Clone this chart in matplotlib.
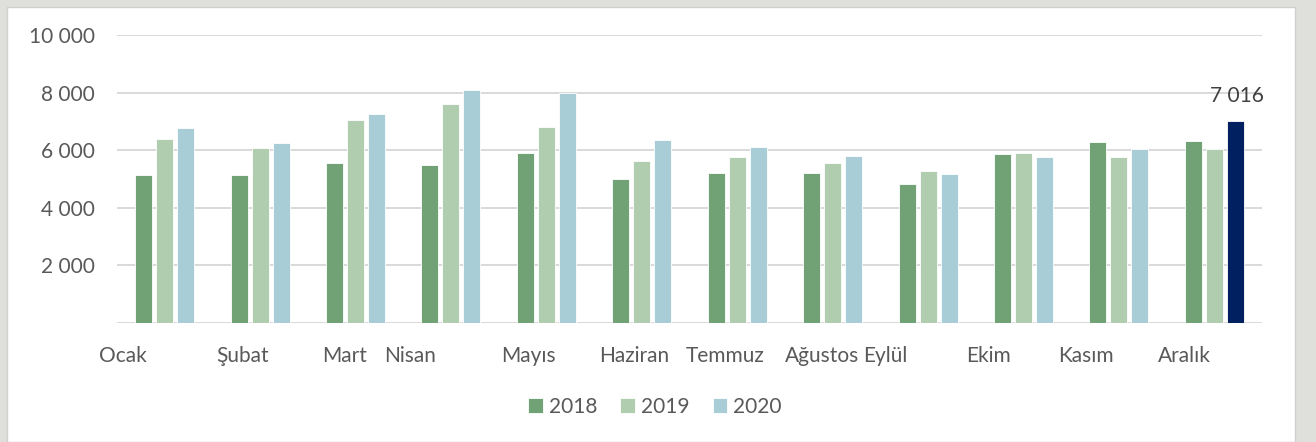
import matplotlib.pyplot as plt
import numpy as np
from matplotlib.patches import Rectangle
from matplotlib.ticker import FuncFormatter

# aylık değerler (2018-2020)
months = ['Ocak', 'Şubat', 'Mart', 'Nisan', 'Mayıs', 'Haziran',
          'Temmuz', 'Ağustos', 'Eylül', 'Ekim', 'Kasım', 'Aralık']
years = ['2018', '2019', '2020']
v2018 = [5140, 5140, 5560, 5490, 5900, 5000, 5210, 5210, 4830, 5870, 6270, 6300]
v2019 = [6390, 6080, 7050, 7600, 6800, 5625, 5760, 5560, 5280, 5890, 5760, 6030]
v2020 = [6770, 6250, 7260, 8090, 7990, 6350, 6110, 5800, 5170, 5750, 6040, 7016]
# etiketlerin kategori merkezine göre kayması (orijinal grafikteki gibi düzensiz)
label_shift = [-0.44, -0.18, -0.11, -0.43, -0.19, -0.08, -0.13, -0.11, -0.45, -0.37, -0.35, -0.31]

colors = ['#70A275', '#B0CDB0', '#A8CDD7']
highlight = '#002060'
text_col = '#595959'

plt.rcParams['font.family'] = ['Lato', 'DejaVu Sans']

fig = plt.figure(figsize=(13.16, 4.42), dpi=100)
fig.patch.set_facecolor('#DFE0DC')
fig.patches.append(Rectangle((7 / 1316, 0), 1288 / 1316, 1 - 7 / 442, transform=fig.transFigure,
                             facecolor='white', edgecolor='#D0D0D0', lw=1, zorder=-5))

ax = fig.add_axes([117 / 1316, 1 - 322.7 / 442, 1145 / 1316, (322.7 - 35) / 442])
ax.set_facecolor('none')
ax.set_zorder(2)

x = np.arange(len(months))
w = 0.178
step = 0.22
series = [v2018, v2019, v2020]
for k, vals in enumerate(series):
    bars = ax.bar(x + (k - 1) * step, vals, width=w, color=colors[k], label=years[k],
                  edgecolor='white', linewidth=0.6, zorder=3)
    if k == 2:
        bars[-1].set_facecolor(highlight)
        ax.annotate(f'{vals[-1]:,}'.replace(',', ' '), (x[-1] + step, vals[-1]),
                    xytext=(1, 11), textcoords='offset points', ha='center', va='bottom',
                    fontsize=15, color='#404040')

ax.set_xlim(-0.5, len(months) - 0.5)
ax.set_ylim(0, 10000)
ax.set_yticks([2000, 4000, 6000, 8000, 10000])
ax.yaxis.set_major_formatter(FuncFormatter(lambda v, p: f'{int(v):,}'.replace(',', ' ')))
ax.grid(axis='y', color='#D9D9D9', lw=1.4, zorder=0)
ax.axhline(0, color='#D9D9D9', lw=1.4, zorder=1)
for s in ax.spines.values():
    s.set_visible(False)
ax.tick_params(axis='y', length=0, pad=16, labelsize=15, labelcolor=text_col)

ax.set_xticks(x + np.array(label_shift))
ax.set_xticklabels(months)
ax.tick_params(axis='x', length=0, pad=17, labelsize=15, labelcolor=text_col)

leg = fig.legend(loc='center', bbox_to_anchor=(655 / 1316, 1 - 407 / 442), ncol=3, frameon=False,
                 fontsize=15, handlelength=0.7, handleheight=0.7, handletextpad=0.3,
                 columnspacing=1.1, labelcolor=text_col)
leg.set_zorder(3)

fig.savefig('out.png', dpi=100)
